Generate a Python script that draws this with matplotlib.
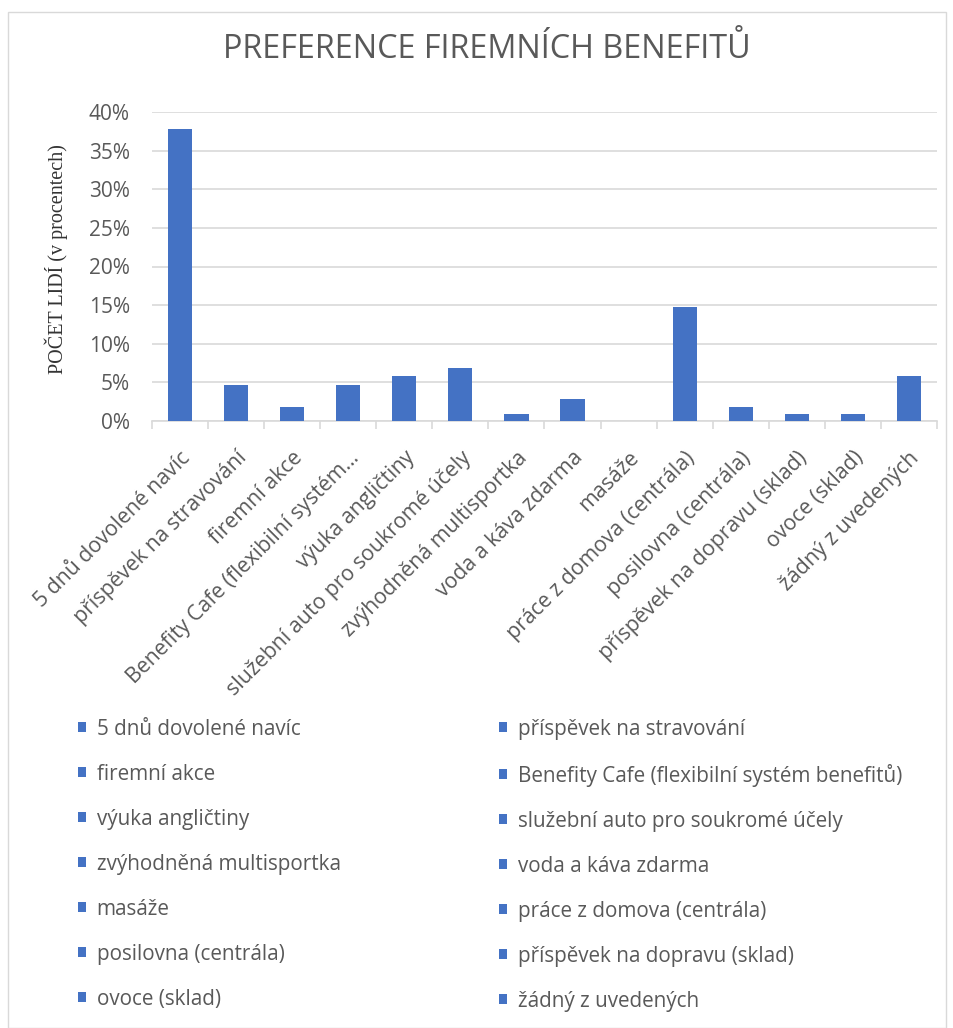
import matplotlib
matplotlib.use("Agg")
import matplotlib.pyplot as plt
import numpy as np
from matplotlib.patches import Rectangle
from matplotlib.ticker import PercentFormatter, FixedLocator

# categories and share of people (%)
categories = [
    "5 dnů dovolené navíc",
    "příspěvek na stravování",
    "firemní akce",
    "Benefity Cafe (flexibilní systém benefitů)",
    "výuka angličtiny",
    "služební auto pro soukromé účely",
    "zvýhodněná multisportka",
    "voda a káva zdarma",
    "masáže",
    "práce z domova (centrála)",
    "posilovna (centrála)",
    "příspěvek na dopravu (sklad)",
    "ovoce (sklad)",
    "žádný z uvedených",
]
tick_labels = list(categories)
tick_labels[3] = "Benefity Cafe (flexibilní systém…"
values = [37.8, 4.7, 1.8, 4.7, 5.8, 6.8, 0.9, 2.8, 0.0, 14.8, 1.8, 0.9, 0.9, 5.8]
yticks = [0, 5, 10, 15, 20, 25, 30, 35, 40]

blue = "#4472C4"
txt = "#595959"
grid = "#D9D9D9"
sans = ["Open Sans", "DejaVu Sans"]

fig = plt.figure(figsize=(9.54, 10.28), dpi=100)
fig.patches.append(Rectangle((8 / 954, 0), 938 / 954, 1 - 12 / 1028, transform=fig.transFigure,
                             fill=False, edgecolor="#D9D9D9", linewidth=1))

ax = fig.add_axes([152 / 954, 1 - 421 / 1028, (937 - 152) / 954, (421 - 112) / 1028])
x = np.arange(len(categories))
bars = ax.bar(x, values, width=0.43, color=blue, zorder=3)

ax.set_xlim(-0.5, len(categories) - 0.5)
ax.set_ylim(0, 40)
ax.set_yticks(yticks)
ax.yaxis.set_major_formatter(PercentFormatter(decimals=0))
ax.grid(axis="y", color=grid, linewidth=1.2, zorder=0)
ax.set_axisbelow(True)
for s in ["left", "right", "top"]:
    ax.spines[s].set_visible(False)
ax.spines["bottom"].set_color(grid)
ax.spines["bottom"].set_linewidth(1.2)
ax.tick_params(axis="y", length=0, pad=16, labelsize=15, labelcolor=txt)
ax.set_xticks(x)
ax.set_xticklabels(tick_labels, rotation=45, ha="right", rotation_mode="anchor",
                   fontsize=15.3, color=txt, family=sans)
ax.tick_params(axis="x", which="major", length=0, pad=19)
ax.xaxis.set_minor_locator(FixedLocator(np.arange(-0.5, len(categories), 1)))
ax.tick_params(axis="x", which="minor", length=6, color=grid, width=1.2)
for lab in ax.get_yticklabels():
    lab.set_family(sans)

ax.set_ylabel("POČET LIDÍ (v procentech)", family="Liberation Serif", fontsize=14.5,
              color="#333333")
ax.yaxis.set_label_coords(-0.107, 0.525)

fig.text(487 / 954, 1 - 50 / 1028, "PREFERENCE FIREMNÍCH BENEFITŮ", ha="center", va="center",
         fontsize=23.3, color=txt, family=sans)

# legend: two columns filled row by row
col1 = list(range(0, len(categories), 2))
col2 = list(range(1, len(categories), 2))
for idx, xpos in [(col1, 59), (col2, 480)]:
    leg = fig.legend([bars.patches[i] for i in idx], [categories[i] for i in idx],
                     loc="upper left", bbox_to_anchor=(xpos / 954, 1 - 700 / 1028),
                     frameon=False, handlelength=0.39, handleheight=0.39, handletextpad=0.53,
                     labelspacing=1.16, prop={"family": sans, "size": 14.9})
    for t in leg.get_texts():
        t.set_color(txt)

fig.savefig("out.png", dpi=100)
